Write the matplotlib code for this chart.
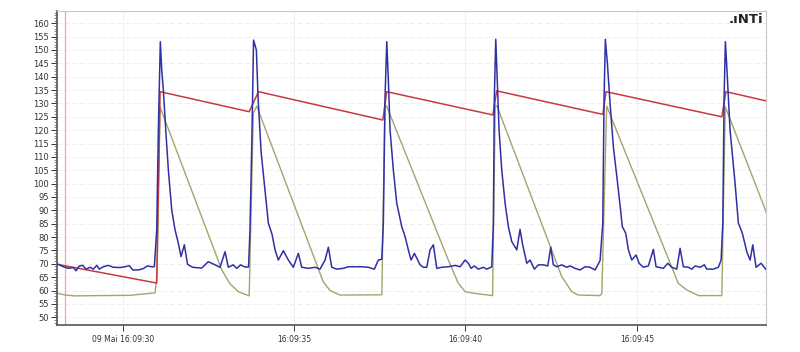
import matplotlib
matplotlib.use("Agg")
import matplotlib.pyplot as plt
from matplotlib.ticker import MultipleLocator

# time in seconds after 16:09:00, level in dB
fast_t = [28.121, 28.267, 28.413, 28.558, 28.637, 28.734, 28.833, 28.929, 29.046, 29.142,
          29.242, 29.317, 29.434, 29.580, 29.726, 29.921, 30.067, 30.193, 30.292, 30.455,
          30.601, 30.718, 30.846, 30.922, 30.992, 31.039, 31.097, 31.138, 31.185, 31.255,
          31.331, 31.430, 31.526, 31.622, 31.701, 31.798, 31.891, 32.037, 32.305, 32.498,
          32.693, 32.839, 32.985, 33.081, 33.227, 33.326, 33.437, 33.569, 33.671, 33.714,
          33.773, 33.817, 33.899, 33.948, 34.036, 34.152, 34.249, 34.357, 34.444, 34.540,
          34.686, 34.832, 34.978, 35.124, 35.223, 35.416, 35.611, 35.757, 35.903, 36.000,
          36.099, 36.245, 36.437, 36.583, 36.779, 36.974, 37.167, 37.342, 37.458, 37.558,
          37.604, 37.654, 37.704, 37.750, 37.800, 37.896, 37.995, 38.141, 38.238, 38.334,
          38.413, 38.509, 38.608, 38.675, 38.772, 38.871, 38.967, 39.064, 39.163, 39.309,
          39.501, 39.696, 39.842, 39.988, 40.085, 40.163, 40.260, 40.376, 40.522, 40.621,
          40.767, 40.814, 40.843, 40.884, 40.931, 40.981, 41.059, 41.156, 41.252, 41.351,
          41.497, 41.593, 41.660, 41.789, 41.885, 42.010, 42.127, 42.273, 42.401, 42.489,
          42.565, 42.664, 42.810, 42.956, 43.052, 43.198, 43.344, 43.490, 43.636, 43.782,
          43.928, 44.006, 44.045, 44.082, 44.141, 44.219, 44.316, 44.462, 44.578, 44.678,
          44.754, 44.853, 44.978, 45.066, 45.191, 45.337, 45.483, 45.562, 45.629, 45.775,
          45.903, 46.020, 46.166, 46.262, 46.359, 46.505, 46.604, 46.700, 46.846, 46.971,
          47.041, 47.234, 47.380, 47.459, 47.509, 47.547, 47.584, 47.625, 47.721, 47.867,
          47.964, 48.080, 48.209, 48.305, 48.384, 48.480, 48.626, 48.763]
fast_db = [69.8, 68.9, 68.3, 68.6, 67.4, 69.2, 69.4, 68.0, 68.7, 68.0,
           69.4, 68.0, 68.9, 69.4, 68.7, 68.6, 68.9, 69.3, 67.7, 67.7,
           68.2, 69.2, 68.9, 68.9, 82.7, 120.0, 153.1, 142.5, 135.0, 120.0,
           105.1, 90.1, 82.7, 77.7, 72.7, 77.1, 69.8, 68.7, 68.4, 70.8,
           69.6, 68.7, 74.5, 68.7, 69.6, 68.3, 69.6, 68.8, 68.8, 83.0,
           120.0, 153.7, 150.0, 132.5, 112.0, 97.6, 85.2, 81.0, 75.2, 71.4,
           74.9, 71.4, 68.7, 73.9, 68.7, 68.3, 68.7, 68.0, 71.4, 76.2,
           68.7, 68.0, 68.3, 68.9, 68.9, 68.9, 68.7, 68.0, 71.4, 71.7,
           85.1, 132.5, 153.1, 138.8, 120.0, 105.1, 92.7, 83.9, 80.2, 75.2,
           71.4, 73.9, 71.4, 69.6, 68.7, 68.7, 75.2, 77.1, 68.3, 68.7,
           68.9, 69.4, 68.9, 71.4, 70.2, 68.3, 69.2, 68.0, 68.7, 68.0,
           68.9, 85.1, 132.5, 154.0, 137.5, 120.0, 105.1, 92.7, 83.9, 78.3,
           75.2, 82.9, 77.7, 70.2, 71.4, 68.0, 69.6, 69.6, 69.2, 76.2,
           69.6, 68.9, 69.6, 68.7, 69.2, 68.3, 67.7, 68.9, 68.7, 67.7,
           71.2, 85.1, 132.5, 154.0, 145.0, 130.1, 113.8, 97.6, 83.9, 81.4,
           75.2, 71.4, 73.3, 70.2, 68.7, 69.2, 75.4, 68.9, 68.7, 68.3,
           70.2, 68.7, 68.0, 75.8, 68.9, 68.7, 68.0, 69.2, 68.7, 69.6,
           68.0, 68.0, 68.7, 71.4, 85.1, 132.5, 153.1, 143.8, 120.0, 100.1,
           85.2, 81.4, 74.5, 71.4, 77.1, 68.7, 70.2, 68.0]

leq_t = [28.09, 30.99, 31.09, 33.69, 33.96, 37.59, 37.70, 40.80, 40.91, 44.01,
         44.10, 47.48, 47.60, 48.76]
leq_db = [69.8, 62.8, 134.4, 126.9, 134.4, 123.8, 134.4, 125.7, 134.7, 125.9,
          134.4, 125.0, 134.4, 131.0]

slow_t = [28.09, 28.32, 28.61, 29.34, 30.20, 30.94, 31.00, 31.09, 32.89, 33.13,
          33.37, 33.69, 33.81, 33.91, 35.85, 36.05, 36.34, 37.56, 37.65, 37.70,
          39.50, 39.79, 39.99, 40.23, 40.79, 40.87, 40.92, 42.81, 43.10, 43.29,
          43.93, 43.98, 44.12, 46.21, 46.46, 46.80, 47.48, 47.58, 48.79]
slow_db = [59.0, 58.3, 58.0, 58.1, 58.2, 59.1, 65.0, 128.6, 67.7, 62.5,
           59.6, 58.0, 126.3, 129.0, 63.3, 60.0, 58.3, 58.4, 128.8, 129.0,
           71.4, 62.7, 59.6, 59.0, 58.1, 129.4, 129.0, 65.2, 59.6, 58.3,
           58.1, 59.0, 129.0, 62.7, 60.2, 58.1, 58.1, 128.8, 88.9]

tick_pos = [30, 35, 40, 45]
tick_labels = ["09 Mai 16:09:30", "16:09:35", "16:09:40", "16:09:45"]
cursor_t = 28.32

fig = plt.figure(figsize=(8, 3.52), dpi=100)
ax = fig.add_axes([0.0716, 0.0767, 0.8855, 0.8929])

ax.axvline(cursor_t, color="#f2a58a", lw=0.9, zorder=1)
ax.plot(slow_t, slow_db, color="#a3a56a", lw=1.0, zorder=2)
ax.plot(leq_t, leq_db, color="#c8393f", lw=1.1, zorder=3)
ax.plot(fast_t, fast_db, color="#3030a6", lw=1.1, zorder=4)

ax.set_xlim(28.09, 48.76)
ax.set_ylim(47.1, 164.7)

ax.yaxis.set_major_locator(MultipleLocator(5))
ax.yaxis.set_minor_locator(MultipleLocator(1))
ax.set_xticks(tick_pos)
ax.set_xticklabels(tick_labels)
ax.tick_params(axis="y", which="major", labelsize=6, length=4, width=0.7,
               colors="#333333", pad=2)
ax.tick_params(axis="y", which="minor", length=2, width=0.5, colors="#555555")
ax.tick_params(axis="x", labelsize=5.5, length=4, width=0.7, colors="#333333", pad=3)

ax.grid(axis="y", which="major", color="#ececec", lw=0.6, ls=(0, (6, 3)))
ax.grid(axis="x", which="major", color="#eeeeee", lw=0.6)
ax.set_axisbelow(True)

for side in ["top", "right"]:
    ax.spines[side].set_color("#c8c8c8")
    ax.spines[side].set_linewidth(0.8)
for side in ["left", "bottom"]:
    ax.spines[side].set_color("#555555")
    ax.spines[side].set_linewidth(1.2)

fig.text(0.954, 0.935, ".\u0131NTi", ha="right", va="baseline",
         fontsize=9.5, fontweight="bold", color="#222222")

fig.savefig("out.png", dpi=100)
